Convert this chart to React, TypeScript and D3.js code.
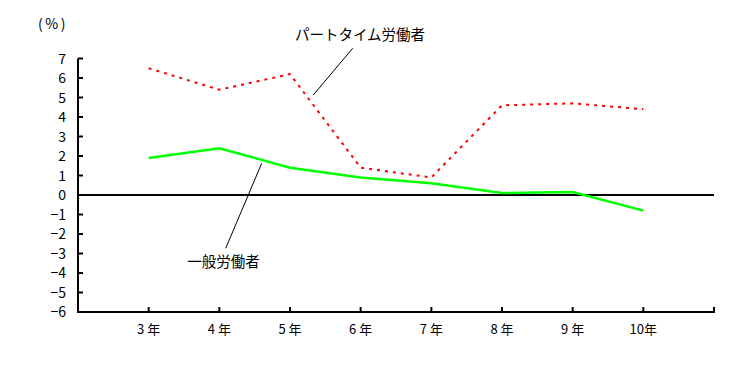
import React from "react";
import * as d3 from "d3";

const categories = ["3 年", "4 年", "5 年", "6 年", "7 年", "8 年", "9 年", "10年"];
const partTime = [6.5, 5.4, 6.2, 1.4, 0.9, 4.6, 4.7, 4.4];
const general = [1.9, 2.4, 1.4, 0.9, 0.6, 0.1, 0.15, -0.8];
const yTicks = [7, 6, 5, 4, 3, 2, 1, 0, -1, -2, -3, -4, -5, -6];
const partLabel = "パートタイム労働者";
const generalLabel = "一般労働者";
const unitLabel = "(%)";

export default function App() {
  const W = 736, H = 365;
  const left = 78, right = 714, top = 58.5, bottom = 312;
  const y = d3.scaleLinear().domain([-6, 7]).range([bottom, top]);
  const x = d3.scaleLinear().domain([0, 9]).range([left, right]);
  const px = (i: number) => x(i + 1);
  const line = d3.line<number>().x((_, i) => px(i)).y((d) => y(d));
  const font = "'Noto Sans CJK JP', 'DejaVu Sans', sans-serif";
  const xTickIdx = d3.range(0, 10);
  return (
    <svg width={W} height={H} style={{ position: "absolute", left: 0, top: 0, background: "#fff" }} fontFamily={font}>
      <text x={53} y={29} fontSize={14} textAnchor="middle" letterSpacing={2.5}>{unitLabel}</text>
      {yTicks.map((t) => (
        <g key={t}>
          <line x1={left} x2={left + 5} y1={y(t)} y2={y(t)} stroke="#000" strokeWidth={2} />
          <text x={66} y={y(t) + 5} fontSize={14} textAnchor="end">{t < 0 ? "−" + Math.abs(t) : t}</text>
        </g>
      ))}
      {xTickIdx.map((i) => (
        <line key={i} x1={x(i)} x2={x(i)} y1={bottom} y2={bottom - 5} stroke="#000" strokeWidth={2} />
      ))}
      {categories.map((c, i) => (
        <text key={c} x={px(i)} y={334} fontSize={13} textAnchor="middle" xmlSpace="preserve">{c}</text>
      ))}
      <line x1={left} x2={left} y1={top} y2={bottom + 1} stroke="#000" strokeWidth={2} />
      <line x1={left - 1} x2={right + 1} y1={bottom} y2={bottom} stroke="#000" strokeWidth={2} />
      <line x1={left} x2={right} y1={y(0)} y2={y(0)} stroke="#000" strokeWidth={2} />
      <path d={line(general) || ""} fill="none" stroke="#00ff00" strokeWidth={2.5} />
      <path d={line(partTime) || ""} fill="none" stroke="#ff0000" strokeWidth={2} strokeDasharray="3,5" />
      <line x1={352.7} y1={48.3} x2={313.3} y2={95} stroke="#000" strokeWidth={1} />
      <line x1={261.7} y1={163.3} x2={225.7} y2={248.3} stroke="#000" strokeWidth={1} />
      <text x={360} y={40} fontSize={14.5} textAnchor="middle">{partLabel}</text>
      <text x={223.5} y={267} fontSize={14.5} textAnchor="middle">{generalLabel}</text>
    </svg>
  );
}
